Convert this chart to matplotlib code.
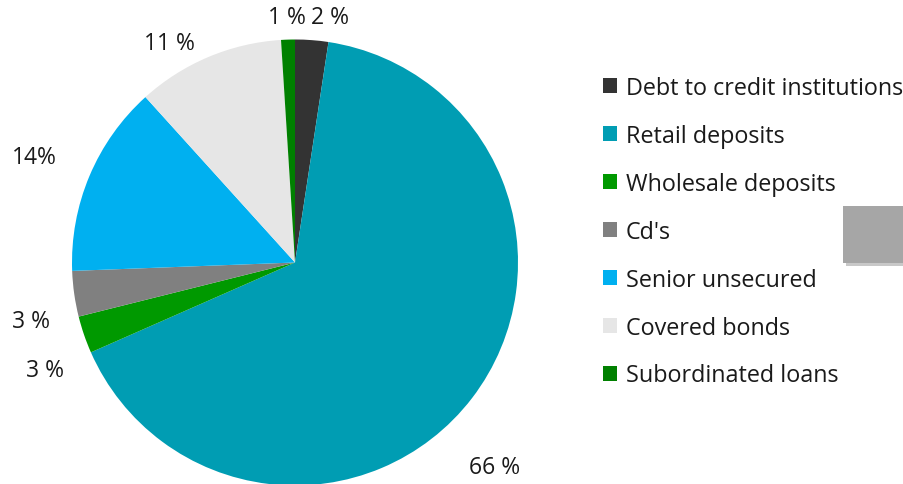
import numpy as np
import matplotlib.pyplot as plt
from matplotlib.patches import Rectangle

# ============================================================================================
# Data
categories = ["Debt to credit institutions", "Retail deposits", "Wholesale deposits",
              "Cd's", "Senior unsecured", "Covered bonds", "Subordinated loans"]
shares = [2.4, 66.0, 2.7, 3.3, 13.9, 10.7, 1.0]
share_labels = ["2 %", "66 %", "3 %", "3 %", "14%", "11 %", "1 %"]
colors = ["#333333", "#009DB3", "#009900", "#808080", "#00B0F0", "#E6E6E6", "#008000"]

# label spots (data coords, pie radius = 1)
label_pos = [(0.155, 1.103), (0.895, -0.915), (-1.119, -0.483), (-1.182, -0.262),
             (-1.168, 0.475), (-0.563, 0.985), (-0.034, 1.103)]

# ============================================================================================
# Plot
plt.rcParams['font.family'] = ['Open Sans', 'DejaVu Sans']

W, H = 904, 485
fig = plt.figure(figsize=(W / 100, H / 100), dpi=100)
ax = fig.add_axes([0, 0, 1, 1])

R = 223.0
cx, cy = 295.0, 263.5
xmin = -cx / R
ymin = -(H - cy) / R

wedges, _ = ax.pie(shares, colors=colors, startangle=90, counterclock=False,
                   radius=1, center=(0, 0), frame=True)
ax.set_xlim(xmin, xmin + W / R)
ax.set_ylim(ymin, ymin + H / R)
ax.set_aspect('equal')
ax.axis('off')

for txt, (x, y) in zip(share_labels, label_pos):
    ax.text(x, y, txt, ha='center', va='center', fontsize=16.5, color='#1a1a1a')

leg = ax.legend(wedges, categories, loc='upper left',
                bbox_to_anchor=(603 / W, 1 - 77 / H), bbox_transform=fig.transFigure,
                frameon=False, fontsize=16.8, handlelength=0.6, handleheight=0.6,
                handletextpad=0.38, labelspacing=1.025, borderaxespad=0, borderpad=0)
for t in leg.get_texts():
    t.set_color('#1a1a1a')

# grey box on the right
fig.patches.append(Rectangle((846 / W, 1 - 267 / H), 60 / W, 57 / H,
                             transform=fig.transFigure, facecolor='#C8C8C8',
                             edgecolor='none', zorder=1))
fig.patches.append(Rectangle((843 / W, 1 - 264 / H), 61 / W, 57 / H,
                             transform=fig.transFigure, facecolor='#A6A6A6',
                             edgecolor='none', zorder=2))

fig.savefig("out.png", dpi=100)
